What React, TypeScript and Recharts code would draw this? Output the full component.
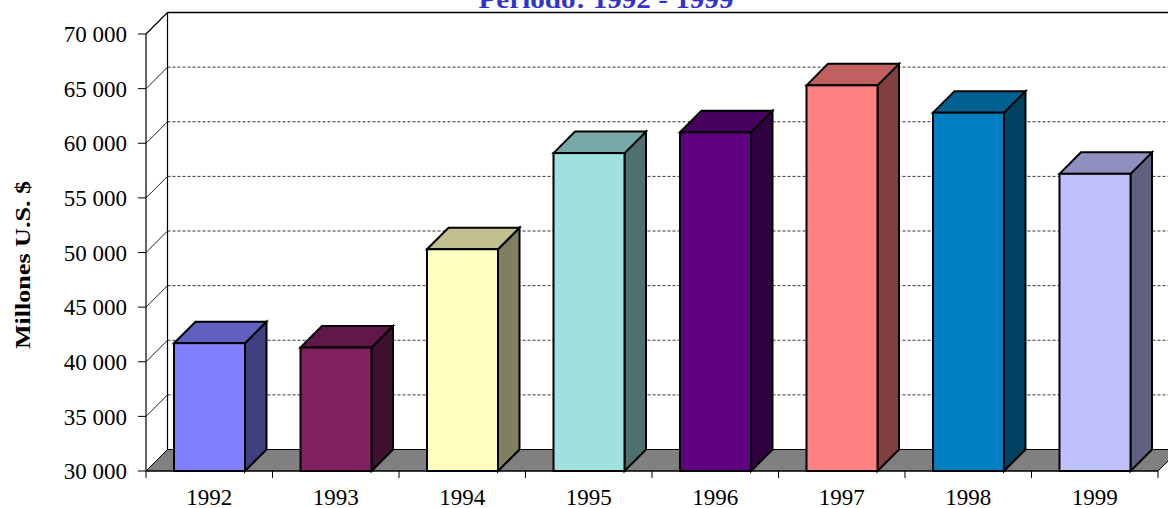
import React from 'react';
import { BarChart, Bar, XAxis, YAxis, CartesianGrid, ReferenceArea } from 'recharts';

// Millones U.S. $ por año (lectura del gráfico)
const years = ['1992', '1993', '1994', '1995', '1996', '1997', '1998', '1999'];
const values = [41700, 41300, 50300, 59100, 61000, 65300, 62800, 57200];
const yTicks = [30000, 35000, 40000, 45000, 50000, 55000, 60000, 65000, 70000];

const frontColors = ['#8080FF', '#802060', '#FFFFC0', '#A0E0E0', '#600080', '#FF8080', '#0080C0', '#C0C0FF'];
const topColors = ['#6060C0', '#601848', '#C0C090', '#78A8A8', '#480060', '#C06060', '#006090', '#9090C0'];
const sideColors = ['#404080', '#401030', '#808060', '#507070', '#300040', '#804040', '#004060', '#606080'];

const DEPTH = 21.5;
const FONT = '"Liberation Serif", "Times New Roman", serif';

const data = years.map((year, i) => ({ year, value: values[i] }));

const fmt = (v: number) => String(v).replace(/\B(?=(\d{3})+(?!\d))/g, ' ');

function Box3D(props: any) {
  const { x, y, width, height, index } = props;
  const d = DEPTH;
  const top = `${x},${y} ${x + d},${y - d} ${x + width + d},${y - d} ${x + width},${y}`;
  const side = `${x + width},${y} ${x + width + d},${y - d} ${x + width + d},${y + height - d} ${x + width},${y + height}`;
  return (
    <g stroke="#000" strokeWidth={2} strokeLinejoin="miter">
      <polygon points={side} fill={sideColors[index]} />
      <polygon points={top} fill={topColors[index]} />
      <rect x={x} y={y} width={width} height={height} fill={frontColors[index]} />
    </g>
  );
}

// back wall gridline + diagonal on the side wall
function WallLine(props: any) {
  const { x1, y1, x2 } = props;
  const d = DEPTH;
  return (
    <g>
      <line x1={x1} y1={y1} x2={x1 + d} y2={y1 - d} stroke="#222" strokeWidth={1} />
      <line x1={x1 + d} y1={y1 - d} x2={x2 + d} y2={y1 - d} stroke="#333" strokeWidth={1} strokeDasharray="3 2" />
    </g>
  );
}

// floor, back-left edge and top edge of the walls
function Walls(props: any) {
  const { x, y, width, height } = props;
  const d = DEPTH;
  const b = y + height;
  const floor = `${x},${b} ${x + width},${b} ${x + width + d},${b - d} ${x + d},${b - d}`;
  return (
    <g>
      <line x1={x + d} y1={y - d} x2={x + d} y2={b - d} stroke="#000" strokeWidth={1.2} />
      <line x1={x + d} y1={y - d} x2={x + width + d} y2={y - d} stroke="#000" strokeWidth={1.5} />
      <line x1={x} y1={y} x2={x + d} y2={y - d} stroke="#000" strokeWidth={1.2} />
      <polygon points={floor} fill="#808080" stroke="#000" strokeWidth={1} />
    </g>
  );
}

function YearTick(props: any) {
  const { x, y, payload, width, visibleTicksCount, index } = props;
  const band = typeof width === 'number' && visibleTicksCount ? width / visibleTicksCount : 126.5;
  const last = index === visibleTicksCount - 1;
  return (
    <g>
      <line x1={x - band / 2} y1={y} x2={x - band / 2} y2={y + 7} stroke="#000" />
      {last && <line x1={x + band / 2} y1={y} x2={x + band / 2} y2={y + 7} stroke="#000" />}
      <text x={x} y={y + 18} dy="0.71em" textAnchor="middle" fontFamily={FONT} fontSize={23} fill="#000">
        {payload.value}
      </text>
    </g>
  );
}

export default function App() {
  return (
    <div style={{ position: 'absolute', left: 0, top: 0, width: 1168, height: 508, background: '#fff' }}>
      <BarChart width={1168} height={508} data={data} margin={{ top: 34, right: 10, left: 0, bottom: 0 }}>
        <CartesianGrid vertical={false} horizontal={WallLine} />
        <ReferenceArea y1={30000} y2={70000} shape={Walls} />
        <XAxis
          dataKey="year"
          height={37}
          interval={0}
          tickLine={false}
          tickSize={0}
          tickMargin={0}
          axisLine={{ stroke: '#000', strokeWidth: 1.2 }}
          tick={YearTick}
        />
        <YAxis
          width={146}
          domain={[30000, 70000]}
          ticks={yTicks}
          interval={0}
          tickFormatter={fmt}
          tickSize={8}
          tickMargin={11}
          axisLine={{ stroke: '#000', strokeWidth: 1.2 }}
          tickLine={{ stroke: '#000' }}
          tick={{ fontFamily: FONT, fontSize: 23, fill: '#000' }}
        />
        <Bar dataKey="value" barSize={71} shape={Box3D} isAnimationActive={false} />
      </BarChart>
      <svg width={1168} height={508} style={{ position: 'absolute', left: 0, top: 0, pointerEvents: 'none' }}>
        <text x={606} y={8} textAnchor="middle" fontFamily={FONT} fontWeight="bold" fontSize={26}
          fill="#3333CC" textLength={255} lengthAdjust="spacingAndGlyphs">
          Periodo: 1992 - 1999
        </text>
        <text x={30} y={265} transform="rotate(-90 30 265)" textAnchor="middle" fontFamily={FONT}
          fontWeight="bold" fontSize={20} fill="#000" textLength={168} lengthAdjust="spacingAndGlyphs">
          Millones U.S. $
        </text>
      </svg>
    </div>
  );
}
